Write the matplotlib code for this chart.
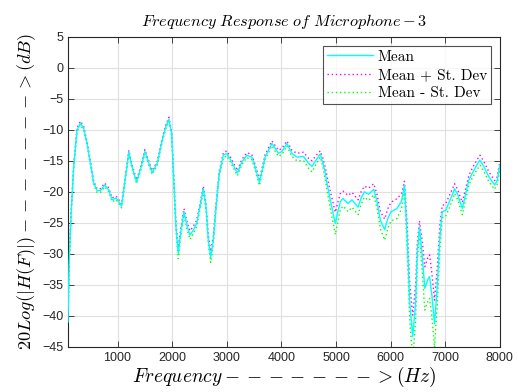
import numpy as np
import matplotlib
matplotlib.use("Agg")
import matplotlib.pyplot as plt

plt.rcParams['mathtext.fontset'] = 'cm'
plt.rcParams['font.family'] = ['Liberation Sans', 'DejaVu Sans']

# frequency axis (Hz), mean response (dB) and its standard deviation (dB)
freq_hz = [94, 112, 149, 198, 259, 321, 382, 442, 505, 565, 626, 688, 767, 840, 901, 974,
           1024, 1073, 1147, 1207, 1268, 1349, 1433, 1501, 1574, 1635, 1727, 1818, 1881, 1941,
           1991, 2033, 2070, 2112, 2156, 2217, 2277, 2327, 2387, 2450, 2510, 2571, 2620, 2663,
           2707, 2754, 2804, 2864, 2938, 3000, 3073, 3195, 3275, 3367, 3459, 3519, 3598, 3703,
           3826, 3947, 4009, 4101, 4193, 4284, 4406, 4497, 4560, 4640, 4712, 4760, 4803, 4850,
           4895, 4987, 5040, 5079, 5128, 5220, 5293, 5404, 5460, 5519, 5598, 5690, 5750, 5813,
           5891, 5950, 6008, 6118, 6200, 6253, 6303, 6351, 6405, 6457, 6488, 6528, 6580, 6626,
           6679, 6713, 6752, 6804, 6853, 6902, 6945, 7006, 7080, 7128, 7170, 7230, 7281, 7312,
           7370, 7433, 7495, 7570, 7635, 7700, 7800, 7905, 7950, 8000]

mean_db = [-41.0, -32.0, -23.8, -16.0, -10.0, -8.9, -9.8, -12.2, -15.4, -18.6, -19.8, -19.8,
           -18.9, -19.7, -21.3, -21.0, -21.6, -22.3, -17.6, -13.6, -16.0, -18.4, -16.0, -13.5,
           -15.4, -16.9, -15.4, -11.7, -9.6, -8.3, -10.6, -18.6, -25.6, -29.9, -26.7, -23.2,
           -25.6, -27.0, -26.2, -25.1, -22.4, -19.5, -22.4, -27.8, -30.5, -27.8, -22.4, -17.0,
           -14.1, -13.8, -14.9, -17.0, -15.2, -14.1, -14.4, -16.0, -18.5, -14.4, -12.2, -13.8,
           -13.5, -12.2, -13.8, -14.4, -14.3, -15.4, -15.9, -14.8, -13.9, -15.3, -17.0, -19.3,
           -21.3, -25.1, -23.0, -21.6, -21.1, -21.9, -21.3, -22.5, -21.0, -20.0, -20.4, -19.6,
           -21.5, -24.6, -26.1, -24.3, -23.2, -22.7, -21.5, -18.9, -27.3, -38.0, -43.4, -38.0,
           -29.9, -25.7, -30.5, -35.6, -34.2, -33.7, -36.4, -41.3, -35.3, -27.3, -23.2, -23.0,
           -21.5, -20.5, -19.5, -20.5, -21.9, -22.7, -20.5, -18.1, -17.0, -15.8, -14.9, -15.8,
           -17.6, -18.9, -18.2, -15.7]

std_db = [0.6, 0.5, 0.4, 0.3, 0.3, 0.3, 0.3, 0.3, 0.3, 0.3, 0.3, 0.3, 0.3, 0.3, 0.3, 0.3,
          0.3, 0.3, 0.3, 0.3, 0.3, 0.3, 0.3, 0.3, 0.3, 0.3, 0.3, 0.3, 0.3, 0.3, 0.3, 0.5,
          0.6, 0.9, 0.6, 0.5, 0.6, 0.7, 0.6, 0.5, 0.4, 0.4, 0.5, 0.7, 0.9, 0.6, 0.5, 0.4,
          0.4, 0.4, 0.4, 0.4, 0.4, 0.4, 0.4, 0.4, 0.5, 0.4, 0.4, 0.5, 0.5, 0.4, 0.5, 0.6,
          0.7, 0.8, 0.9, 0.7, 0.5, 0.7, 1.0, 1.2, 1.4, 1.8, 1.5, 1.3, 1.2, 1.3, 1.2, 1.2,
          1.0, 0.9, 1.0, 0.9, 1.1, 1.4, 1.7, 1.6, 1.5, 1.6, 1.2, 0.6, 2.0, 3.0, 3.5, 3.0,
          1.5, 1.0, 2.5, 3.5, 3.5, 3.5, 3.5, 3.8, 3.0, 2.0, 1.0, 1.0, 1.0, 0.9, 0.8, 0.8,
          0.9, 1.0, 0.9, 0.8, 0.8, 0.8, 0.8, 0.8, 0.8, 0.7, 0.6, 0.5]

x_ticks = [1000, 2000, 3000, 4000, 5000, 6000, 7000, 8000]
y_ticks = [-45, -40, -35, -30, -25, -20, -15, -10, -5, 0, 5]

f = np.array(freq_hz)
m = np.array(mean_db)
s = np.array(std_db)

fig = plt.figure(figsize=(5.18, 3.92), dpi=100)
ax = fig.add_axes([0.1313, 0.1156, 0.8337, 0.7904])

ax.plot(f, m, color='#00FFFF', lw=1.0, label='Mean', zorder=3)
ax.plot(f, m + s, color='#FF00FF', lw=1.0, ls=(0, (1, 2)), label='Mean + St. Dev', zorder=2)
ax.plot(f, m - s, color='#00FF00', lw=1.0, ls=(0, (1, 2)), label='Mean - St. Dev', zorder=2)

ax.set_xlim(94, 8000)
ax.set_ylim(-45, 5)
ax.set_xticks(x_ticks)
ax.set_yticks(y_ticks)
ax.grid(True, color='#e0e0e0', lw=0.8)
ax.set_axisbelow(True)
ax.tick_params(direction='in', top=True, right=True, length=4, width=0.6,
               labelsize=9, colors='#262626')
for sp in ax.spines.values():
    sp.set_color('#262626')
    sp.set_linewidth(0.8)

ax.set_title(r'$Frequency\ Response\ of\ Microphone-3$', fontsize=11.7, pad=8)
ax.set_xlabel(r'$Frequency------->(Hz)$', fontsize=14, labelpad=1)
ax.set_ylabel(r'$20Log(|H(F)|)------->(dB)$', fontsize=13.2, labelpad=3)

leg = ax.legend(loc='upper right', prop={'family': 'cmr10', 'size': 11}, frameon=True,
                fancybox=False, edgecolor='#262626', borderpad=0.25, labelspacing=0.3,
                handlelength=3.0, handletextpad=0.3, borderaxespad=0.6)
leg.get_frame().set_linewidth(0.8)

fig.savefig('out.png', dpi=100)
